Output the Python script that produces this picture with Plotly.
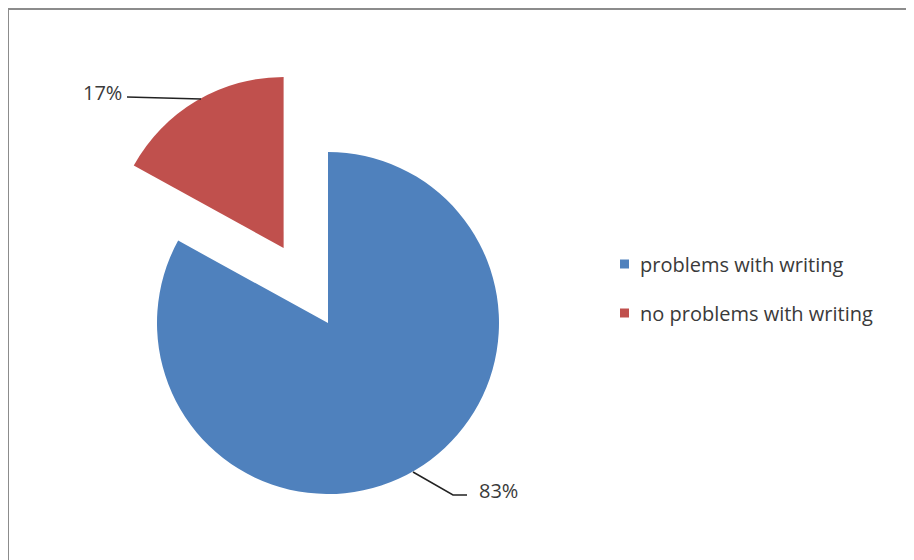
import plotly.graph_objects as go

# ---- data ----
labels = ["problems with writing", "no problems with writing"]
values = [83, 17]
colors = ["#4F81BD", "#C0504D"]
pulls = [0, 0.51]

W, H = 914, 600
OFF = 8  # page body margin
FONT = "Open Sans, Liberation Sans, Arial, sans-serif"
TXT = "#3a3a3a"
FS = 20


def px(x):
    return (x - OFF) / W


def py(y):
    return 1 - (y - OFF) / H


total = sum(values)
pct = [f"{round(100 * v / total)}%" for v in values]

# pie geometry (screen pixels): centre and radius
CX, CY, R = 328, 323, 171
half = R * (1 + max(pulls))

fig = go.Figure()
fig.add_trace(go.Pie(
    labels=labels,
    values=values,
    marker=dict(colors=colors, line=dict(width=0)),
    pull=pulls,
    sort=False,
    direction="clockwise",
    rotation=0,
    textinfo="none",
    hoverinfo="label+percent",
    showlegend=False,
    domain=dict(x=[px(CX - half), px(CX + half)], y=[py(CY + half), py(CY - half)]),
))

shapes = []
annotations = []

# frame (top and left edges)
shapes.append(dict(type="line", xref="paper", yref="paper",
                   x0=px(8), y0=py(9), x1=px(930), y1=py(9),
                   line=dict(color="#8c8c8c", width=2)))
shapes.append(dict(type="line", xref="paper", yref="paper",
                   x0=px(8), y0=py(9), x1=px(8), y1=py(600),
                   line=dict(color="#8c8c8c", width=2)))


def path(pts):
    return "M " + " L ".join(f"{px(a)},{py(b)}" for a, b in pts)


# leader lines
shapes.append(dict(type="path", xref="paper", yref="paper",
                   path=path([(127, 97), (201, 99)]),
                   line=dict(color="#222222", width=1.5)))
shapes.append(dict(type="path", xref="paper", yref="paper",
                   path=path([(413, 472), (453, 495), (467, 495)]),
                   line=dict(color="#222222", width=1.5)))

# data labels
annotations.append(dict(x=px(102), y=py(92), xref="paper", yref="paper",
                        text=pct[1], showarrow=False, xanchor="center", yanchor="middle",
                        font=dict(family=FONT, size=FS, color=TXT)))
annotations.append(dict(x=px(498), y=py(490), xref="paper", yref="paper",
                        text=pct[0], showarrow=False, xanchor="center", yanchor="middle",
                        font=dict(family=FONT, size=FS, color=TXT)))

# legend
leg_y = [264, 313]
for lab, col, yy in zip(labels, colors, leg_y):
    shapes.append(dict(type="rect", xref="paper", yref="paper",
                       x0=px(620), x1=px(629), y0=py(yy - 4.5), y1=py(yy + 4.5),
                       fillcolor=col, line=dict(width=0)))
    annotations.append(dict(x=px(638), y=py(yy), xref="paper", yref="paper",
                            text=lab, showarrow=False, xanchor="left", yanchor="middle",
                            font=dict(family=FONT, size=FS, color=TXT)))

fig.update_layout(
    width=W, height=H,
    margin=dict(l=0, r=0, t=0, b=0),
    paper_bgcolor="white",
    plot_bgcolor="white",
    shapes=shapes,
    annotations=annotations,
    showlegend=False,
)

fig.write_html("out.html")
